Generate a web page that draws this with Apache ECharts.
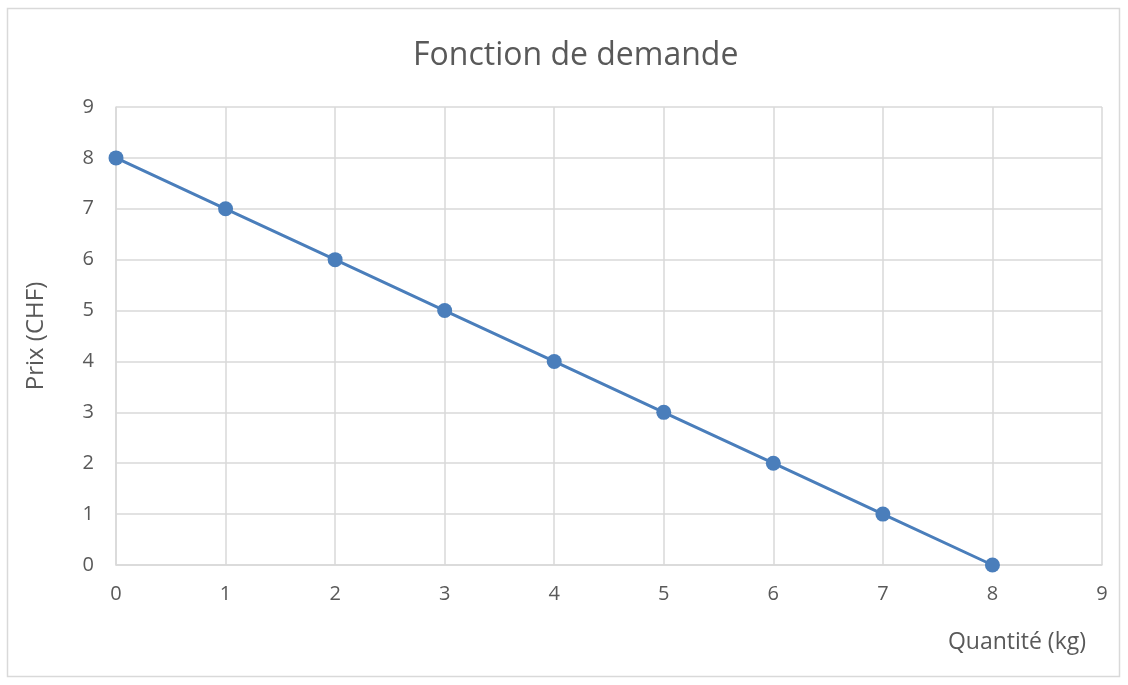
<!DOCTYPE html>
<html>
<head>
<meta charset="utf-8">
<script src="https://cdn.jsdelivr.net/npm/echarts@6/dist/echarts.min.js"></script>
<style>
  html, body { margin: 0; padding: 0; background: #fff; }
  #chart { width: 1128px; height: 685px; }
</style>
</head>
<body>
<div id="chart"></div>
<script>
var quantite = [0, 1, 2, 3, 4, 5, 6, 7, 8]
var prix = [8, 7, 6, 5, 4, 3, 2, 1, 0]

var points = quantite.map(function (q, i) { return [q, prix[i]] })

var gridLine = { lineStyle: { color: '#d9d9d9', width: 1.5 } }
var labelStyle = { color: '#595959', fontSize: 20, fontFamily: 'Open Sans' }

var chart = echarts.init(document.getElementById('chart'))
chart.setOption({
  animation: false,
  title: {
    text: 'Fonction de demande',
    left: 408,
    top: 35,
    textStyle: { color: '#595959', fontSize: 32, fontWeight: 'normal', fontFamily: 'Open Sans' }
  },
  graphic: [{
    type: 'rect',
    shape: { x: 7.5, y: 8.5, width: 1112, height: 668 },
    style: { fill: 'none', stroke: '#d9d9d9', lineWidth: 1.5 }
  }],
  grid: { left: 116, right: 26, top: 107, bottom: 120 },
  xAxis: {
    type: 'value',
    min: 0,
    max: 9,
    interval: 1,
    name: 'Quantité (kg)',
    nameLocation: 'end',
    nameGap: 0,
    nameTextStyle: { color: '#595959', fontSize: 23, fontFamily: 'Open Sans', align: 'right', verticalAlign: 'top', padding: [66, 16, 0, 0] },
    axisLine: { show: true, lineStyle: { color: '#d9d9d9', width: 1.5 } },
    axisTick: { show: false },
    axisLabel: Object.assign({ margin: 19 }, labelStyle),
    splitLine: gridLine
  },
  yAxis: {
    type: 'value',
    min: 0,
    max: 9,
    interval: 1,
    name: 'Prix (CHF)',
    nameLocation: 'middle',
    nameGap: 68,
    nameRotate: 90,
    nameTextStyle: { color: '#595959', fontSize: 24, fontFamily: 'Open Sans' },
    axisLine: { show: true, lineStyle: { color: '#d9d9d9', width: 1.5 } },
    axisTick: { show: false },
    axisLabel: Object.assign({ margin: 22 }, labelStyle),
    splitLine: gridLine
  },
  series: [{
    type: 'line',
    data: points,
    symbol: 'circle',
    symbolSize: 15,
    lineStyle: { color: '#4a7ebb', width: 3 },
    itemStyle: { color: '#4a7ebb' }
  }]
})
</script>
</body>
</html>
